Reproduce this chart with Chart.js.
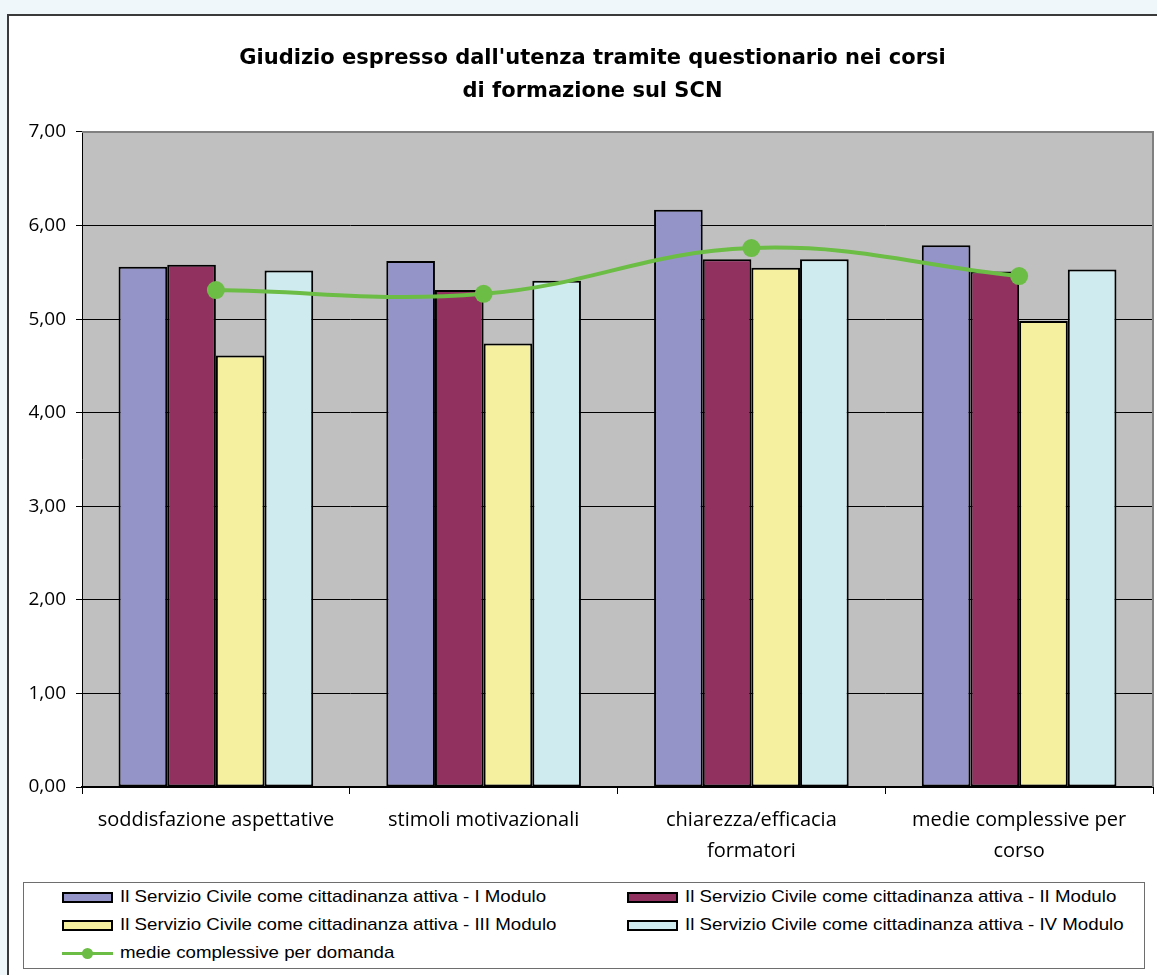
<!DOCTYPE html>
<html>
<head>
<meta charset="utf-8">
<script src="https://cdn.jsdelivr.net/npm/chart.js@4.4.1/dist/chart.umd.min.js"></script>
<style>
html, body { margin: 0; padding: 0; width: 1157px; height: 975px; overflow: hidden; background: #eff7fa; }
#frame { position: absolute; left: 7px; top: 14px; width: 1200px; height: 1000px; background: #fff; border: 2px solid #3a3a3a; }
#wrap { position: absolute; left: 0; top: 0; width: 1185px; height: 975px; }
#legend { position: absolute; left: 23px; top: 882px; width: 1122px; height: 87px; box-sizing: border-box;
  border: 1px solid #6e6e6e; background: #fff; font-family: "Liberation Sans", Arial, sans-serif; font-size: 17px; color: #000; }
.item { position: absolute; height: 28px; display: flex; align-items: center; white-space: nowrap; }
.swatch { width: 51px; height: 11px; box-sizing: border-box; border: 2px solid #000; margin-right: 7px; }
.lineSw { width: 51px; height: 11px; position: relative; margin-right: 7px; }
.lineSw .ln { position: absolute; left: 0; right: 0; top: 4px; height: 3px; }
.lineSw .dot { position: absolute; left: 20px; top: 0; width: 11px; height: 11px; border-radius: 50%; }
.label { display: inline-block; transform: scaleX(1.1); transform-origin: left center; }
</style>
</head>
<body>
<div id="frame"></div>
<div id="wrap"><canvas id="chart" width="1185" height="975"></canvas></div>
<div id="legend"></div>
<script>
// dati
const categories = [
    "soddisfazione aspettative",
    "stimoli motivazionali",
    ["chiarezza/efficacia", "formatori"],
    ["medie complessive per", "corso"]
];
const moduloI = [5.56, 5.62, 6.17, 5.79];
const moduloII = [5.58, 5.31, 5.64, 5.51];
const moduloIII = [4.61, 4.74, 5.55, 4.98];
const moduloIV = [5.52, 5.41, 5.64, 5.53];
const medieDomanda = [5.31, 5.27, 5.76, 5.46];
const yMin = 0;
const yMax = 7;
const yStep = 1;

const seriesNames = [
    "Il Servizio Civile come cittadinanza attiva - I Modulo",
    "Il Servizio Civile come cittadinanza attiva - II Modulo",
    "Il Servizio Civile come cittadinanza attiva - III Modulo",
    "Il Servizio Civile come cittadinanza attiva - IV Modulo",
    "medie complessive per domanda"
];
const barColors = ["#9494c8", "#913160", "#f4f0a0", "#cfebef"];
const green = "#6cbd45";

const plotArea = {
    id: "plotArea",
    // il titolo va centrato su tutta la cornice, non sull'area del grafico
    afterLayout(chart) {
        if (chart.titleBlock) {
            chart.titleBlock.left = 0;
            chart.titleBlock.right = chart.width;
        }
    },
    beforeDraw(chart) {
        const { ctx, chartArea: a } = chart;
        ctx.save();
        ctx.fillStyle = "#c0c0c0";
        ctx.fillRect(a.left, a.top, a.right - a.left, a.bottom - a.top);
        ctx.restore();
    },
    beforeDatasetsDraw(chart) {
        const { ctx, chartArea: a } = chart;
        ctx.save();
        ctx.strokeStyle = "#808080";
        ctx.lineWidth = 2;
        ctx.beginPath();
        ctx.moveTo(a.left, a.top);
        ctx.lineTo(a.right, a.top);
        ctx.lineTo(a.right, a.bottom);
        ctx.stroke();
        ctx.restore();
    }
};

function barSet(i, data) {
    return {
        type: "bar",
        label: seriesNames[i],
        data: data,
        backgroundColor: barColors[i],
        borderColor: "#000",
        borderWidth: 2,
        borderSkipped: false,
        categoryPercentage: 0.727,
        barPercentage: 1,
        order: 1
    };
}

const chart = new Chart(document.getElementById("chart"), {
    data: {
        labels: categories,
        datasets: [
            barSet(0, moduloI),
            barSet(1, moduloII),
            barSet(2, moduloIII),
            barSet(3, moduloIV),
            {
                type: "line",
                label: seriesNames[4],
                data: medieDomanda,
                borderColor: green,
                backgroundColor: green,
                borderWidth: 4,
                tension: 0.4,
                pointRadius: 9,
                pointHoverRadius: 9,
                pointBorderWidth: 0,
                order: 0
            }
        ]
    },
    options: {
        responsive: false,
        animation: false,
        devicePixelRatio: 1,
        layout: { padding: { left: 0, right: 32, top: 0, bottom: 0 } },
        plugins: {
            legend: { display: false },
            tooltip: { enabled: false },
            title: {
                display: true,
                text: [
                    "Giudizio espresso dall'utenza tramite questionario nei corsi",
                    "di formazione sul SCN"
                ],
                color: "#000",
                font: { family: "DejaVu Sans", size: 21, weight: "bold", lineHeight: 1.571 },
                padding: { top: 42, bottom: 24 }
            }
        },
        scales: {
            x: {
                afterFit(s) { s.height = 188; },
                border: { display: true, color: "#000", width: 2 },
                grid: { offset: true, drawOnChartArea: false, color: "#000", tickLength: 7 },
                ticks: {
                    padding: 11,
                    color: "#000",
                    maxRotation: 0,
                    autoSkip: false,
                    font: { family: "Open Sans", size: 20, lineHeight: 1.55 }
                }
            },
            y: {
                min: yMin,
                max: yMax,
                afterFit(s) { s.width = 82; },
                border: { display: true, color: "#000", width: 1 },
                grid: { color: "#000", tickColor: "#000", tickLength: 6, lineWidth: 1 },
                ticks: {
                    stepSize: yStep,
                    padding: 10,
                    color: "#000",
                    font: { family: "Open Sans", size: 19 },
                    callback: (v) => v.toFixed(2).replace(".", ",")
                }
            }
        }
    },
    plugins: [plotArea]
});

// legenda su due colonne, come nell'originale
const legendEl = document.getElementById("legend");
const slots = [[38, 0], [603, 0], [38, 28], [603, 28], [38, 56]];
chart.data.datasets.forEach((ds, i) => {
    const item = document.createElement("div");
    item.className = "item";
    item.style.left = slots[i][0] + "px";
    item.style.top = slots[i][1] + "px";
    let sw;
    if (ds.type === "line") {
        sw = document.createElement("div");
        sw.className = "lineSw";
        sw.innerHTML = `<div class="ln" style="background:${ds.borderColor}"></div><div class="dot" style="background:${ds.borderColor}"></div>`;
    } else {
        sw = document.createElement("div");
        sw.className = "swatch";
        sw.style.background = ds.backgroundColor;
    }
    const txt = document.createElement("span");
    txt.className = "label";
    txt.textContent = ds.label;
    item.appendChild(sw);
    item.appendChild(txt);
    legendEl.appendChild(item);
});
</script>
</body>
</html>
